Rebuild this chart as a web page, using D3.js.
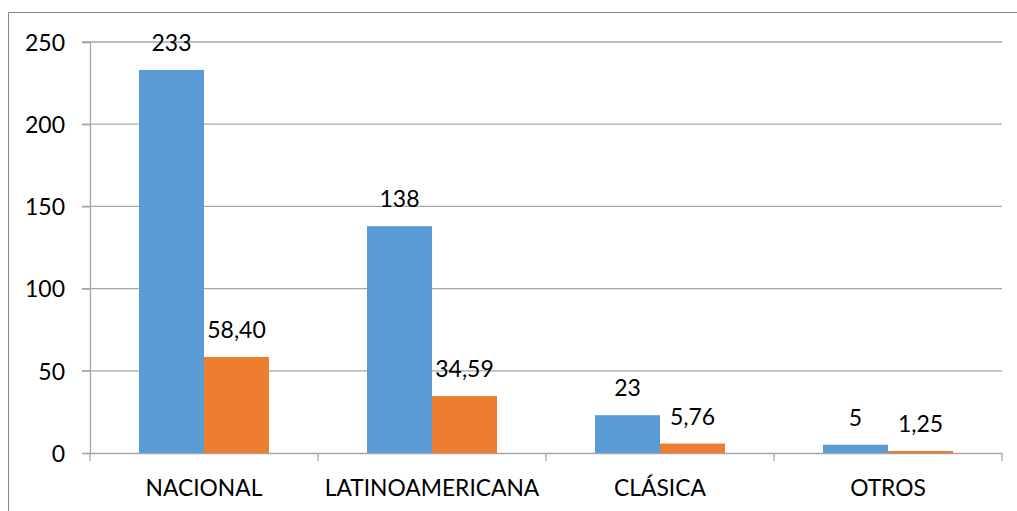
<!DOCTYPE html>
<html><head><meta charset="utf-8">
<script src="https://cdn.jsdelivr.net/npm/d3@7"></script>
<style>body{margin:0;background:#fff;} svg{display:block;}</style>
</head><body>
<svg id="c" width="1017" height="511"></svg>
<script>
const categories = ["NACIONAL", "LATINOAMERICANA", "CLÁSICA", "OTROS"];
const seriesCount = [233, 138, 23, 5];
const seriesPercent = [58.40, 34.59, 5.76, 1.25];
const percentLabels = ["58,40", "34,59", "5,76", "1,25"];
const yTicks = [0, 50, 100, 150, 200, 250];

(function () {
const svg = d3.select("#c");
const font = "Lato, 'Open Sans', sans-serif";
const mLeft = 90, mRight = 1002, mTop = 42, mBottom = 453;

// outer border
svg.append("path").attr("d", "M8.5,511 L8.5,12.5 L1017,12.5")
  .attr("fill", "none").attr("stroke", "#898989").attr("stroke-width", 1);

const x = d3.scaleBand().domain(categories).range([mLeft, mRight]).paddingInner(0).paddingOuter(0);
const y = d3.scaleLinear().domain([0, 250]).range([mBottom, mTop]);

// gridlines
svg.append("g").selectAll("line").data(yTicks.filter(d => d > 0)).join("line")
  .attr("x1", mLeft - 8).attr("x2", mRight)
  .attr("y1", d => y(d)).attr("y2", d => y(d))
  .attr("stroke", "#a6a6a6").attr("stroke-width", 1.3);

// y axis
const ya = svg.append("g").attr("transform", `translate(${mLeft},0)`)
  .call(d3.axisLeft(y).tickValues(yTicks).tickSize(8).tickPadding(17));
ya.select(".domain").attr("stroke", "#a6a6a6").attr("stroke-width", 1.3);
ya.selectAll(".tick line").attr("stroke", "#a6a6a6").attr("stroke-width", 1.3);
ya.selectAll("text").attr("font-family", font).attr("font-size", 23).attr("fill", "#000").attr("dy", "0.36em");

// x axis
const xa = svg.append("g").attr("transform", `translate(0,${mBottom})`)
  .call(d3.axisBottom(x).tickSize(0).tickPadding(0));
xa.select(".domain").attr("stroke", "#a6a6a6").attr("stroke-width", 1.3);
xa.selectAll(".tick text").attr("font-family", font).attr("font-size", 22.8).attr("fill", "#000").attr("y", 43).attr("dy", 0);
// category boundary ticks
const bounds = categories.map(c => x(c)).concat([mRight]);
xa.append("g").selectAll("line").data(bounds).join("line")
  .attr("x1", d => d).attr("x2", d => d).attr("y1", 0).attr("y2", 8)
  .attr("stroke", "#a6a6a6").attr("stroke-width", 1.3);

const bw = 65;
const xs = d3.scaleBand().domain([0, 1]).range([-bw, bw]);
const colors = ["#5b9bd5", "#ed7d31"];
const series = [seriesCount, seriesPercent];
const labels = [seriesCount.map(String), percentLabels];

series.forEach((vals, si) => {
  const g = svg.append("g");
  g.selectAll("rect").data(vals).join("rect")
    .attr("x", (d, i) => x(categories[i]) + x.bandwidth() / 2 + xs(si))
    .attr("width", xs.bandwidth())
    .attr("y", d => y(d))
    .attr("height", d => y(0) - y(d))
    .attr("fill", colors[si]);
  g.selectAll("text").data(vals).join("text")
    .attr("x", (d, i) => x(categories[i]) + x.bandwidth() / 2 + xs(si) + xs.bandwidth() / 2)
    .attr("y", d => y(d) - 19)
    .attr("text-anchor", "middle")
    .attr("font-family", font).attr("font-size", 23).attr("fill", "#000")
    .text((d, i) => labels[si][i]);
});
})();
</script>
</body></html>
